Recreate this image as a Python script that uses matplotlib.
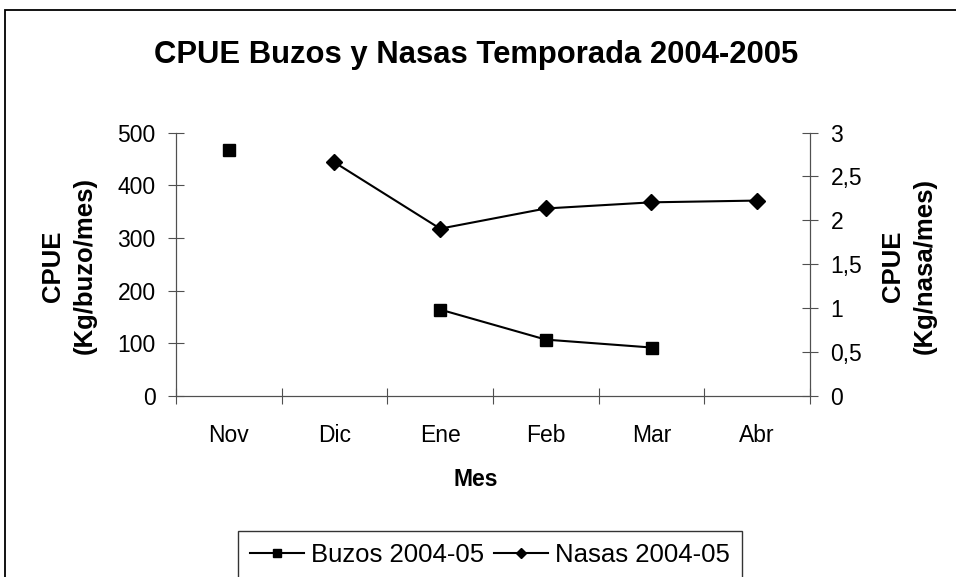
import numpy as np
import matplotlib.pyplot as plt
from matplotlib.patches import Rectangle

plt.rcParams['font.family'] = ['Liberation Sans', 'DejaVu Sans']

meses = ['Nov', 'Dic', 'Ene', 'Feb', 'Mar', 'Abr']
buzos = [467, np.nan, 164, 107, 92, np.nan]
nasas = [np.nan, 2.66, 1.905, 2.135, 2.205, 2.225]

W, H = 956, 577
fig = plt.figure(figsize=(W / 100, H / 100), dpi=100)

# marco exterior del grafico (tipo Excel)
fig.patches.append(Rectangle((5 / W, -0.1), 1.1, 1 - 10 / H + 0.1, transform=fig.transFigure,
                             fill=False, edgecolor='black', linewidth=1.3))

x0, x1 = 176 / W, 810 / W
y0, y1 = 1 - 396 / H, 1 - 132.5 / H
ax = fig.add_axes([x0, y0, x1 - x0, y1 - y0])
ax2 = ax.twinx()

x = np.arange(len(meses))
ax.plot(x, buzos, color='black', marker='s', ms=8, lw=1.5, label='Buzos 2004-05')
ax2.plot(x, nasas, color='black', marker='D', ms=8, lw=1.5, label='Nasas 2004-05')

ax.set_xlim(-0.5, len(meses) - 0.5)
ax.set_ylim(0, 500)
ax2.set_ylim(0, 3)
ax.set_yticks(range(0, 501, 100))
ax2.set_yticks([0, 0.5, 1, 1.5, 2, 2.5, 3])
ax2.set_yticklabels(['0', '0,5', '1', '1,5', '2', '2,5', '3'])

ax.set_xticks(np.arange(-0.5, len(meses), 1))
ax.set_xticklabels([])
ax.set_xticks(x, minor=True)
ax.set_xticklabels(meses, minor=True)
gris = '#505050'
ax.tick_params(axis='x', which='minor', length=0, pad=20, labelsize=16.5)
ax.tick_params(axis='x', which='major', direction='inout', length=12, color=gris)
ax.tick_params(axis='y', direction='inout', length=11.5, labelsize=16.5, pad=9, color=gris)
ax2.tick_params(axis='y', direction='inout', length=11.5, labelsize=16.5, pad=9, color=gris)

for a in (ax, ax2):
    a.spines['top'].set_visible(False)
    for s in ('left', 'right', 'bottom'):
        a.spines[s].set_color(gris)

fig.text(476 / W, 1 - 55 / H, 'CPUE Buzos y Nasas Temporada 2004-2005', ha='center', va='center',
         fontsize=22.3, fontweight='bold')
fig.text(476 / W, 1 - 480 / H, 'Mes', ha='center', va='center', fontsize=16.5, fontweight='bold')
fig.text(69 / W, 1 - 266 / H, 'CPUE\n(Kg/buzo/mes)', ha='center', va='center', rotation=90,
         fontsize=18.5, fontweight='bold', linespacing=1.4)
fig.text(909 / W, 1 - 266 / H, 'CPUE\n(Kg/nasa/mes)', ha='center', va='center', rotation=90,
         fontsize=18.5, fontweight='bold', linespacing=1.4)

h1, l1 = ax.get_legend_handles_labels()
h2, l2 = ax2.get_legend_handles_labels()
leg = fig.legend(h1 + h2, l1 + l2, loc='upper center', bbox_to_anchor=(490 / W, 1 - 531 / H),
                 ncol=2, frameon=True, fancybox=False, edgecolor='black', fontsize=18.5,
                 handlelength=2.1, handletextpad=0.27, columnspacing=0.4, borderpad=0.45,
                 borderaxespad=0, markerscale=0.7)
leg.get_frame().set_linewidth(1.0)

fig.savefig('out.png', dpi=100)
